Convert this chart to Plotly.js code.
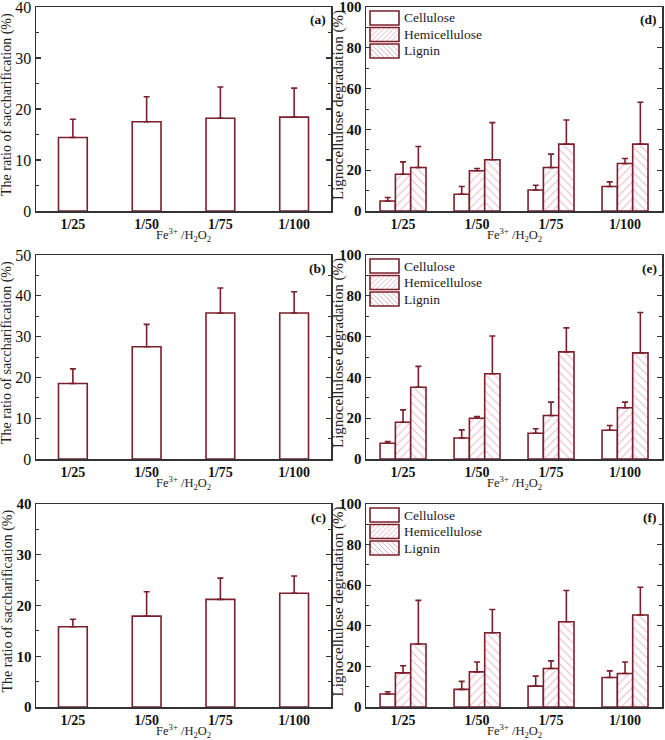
<!DOCTYPE html>
<html>
<head>
<meta charset="utf-8">
<script src="https://cdn.plot.ly/plotly-3.0.1.min.js"></script>
<style>html,body{margin:0;padding:0;background:#fff;}#chart{width:665px;height:740px;}</style>
</head>
<body>
<div id="chart"></div>
<script>
// ---------------- data ----------------
const ratios = ['1/25', '1/50', '1/75', '1/100'];
const seriesNames = ['Cellulose', 'Hemicellulose', 'Lignin'];

// Saccharification ratio (%) : bar value and top of error bar
const saccA = [14.4, 17.5, 18.2, 18.4];
const saccAErrTop = [18.0, 22.4, 24.3, 24.1];
const saccB = [18.5, 27.5, 35.8, 35.8];
const saccBErrTop = [22.1, 33.0, 41.9, 41.0];
const saccC = [15.8, 17.9, 21.2, 22.4];
const saccCErrTop = [17.3, 22.7, 25.4, 25.8];

// Lignocellulose degradation (%) panel (d)
const celD = [4.9, 8.2, 10.3, 12.0];
const celDErrTop = [6.6, 12.0, 12.6, 14.3];
const hemD = [18.0, 19.7, 21.3, 23.3];
const hemDErrTop = [24.1, 20.8, 27.9, 25.7];
const ligD = [21.3, 25.1, 32.8, 32.8];
const ligDErrTop = [31.6, 43.3, 44.6, 53.3];
// panel (e)
const celE = [7.7, 10.3, 12.6, 14.1];
const celEErrTop = [8.6, 14.3, 14.8, 16.4];
const hemE = [18.0, 20.0, 21.3, 25.1];
const hemEErrTop = [24.1, 20.8, 27.9, 27.9];
const ligE = [35.2, 41.8, 52.5, 52.0];
const ligEErrTop = [45.4, 60.3, 64.3, 71.8];
// panel (f)
const celF = [6.4, 8.7, 10.3, 14.5];
const celFErrTop = [7.5, 12.6, 15.2, 17.8];
const hemF = [16.8, 17.3, 19.0, 16.5];
const hemFErrTop = [20.3, 22.2, 22.7, 22.2];
const ligF = [31.0, 36.6, 42.0, 45.3];
const ligFErrTop = [52.5, 48.0, 57.4, 59.0];

// ---------------- style ----------------
const W = 665, H = 740;
const DARK = '#7b1f2c';
const PINK = '#eab3c7';
const AXC = '#333333';
const FONT = 'Liberation Serif, Times New Roman, serif';
const px = p => p / W;
const py = p => 1 - p / H;

const leftX = [36, 331], rightX = [366, 662];
const rows = [[7, 211], [255, 459], [504, 707]];

function errSpec(vals, tops) {
  return {
    type: 'data', symmetric: false,
    array: tops.map((t, i) => Math.max(0, t - vals[i])),
    arrayminus: vals.map(() => 0),
    color: DARK, thickness: 1.6, width: 3
  };
}

const traces = [];
function saccTrace(vals, tops, ax) {
  traces.push({
    type: 'bar', x: ratios, y: vals, xaxis: 'x' + ax, yaxis: 'y' + ax,
    width: 0.39, showlegend: false,
    marker: {color: '#ffffff', line: {color: DARK, width: 1.6}},
    error_y: errSpec(vals, tops), name: 'Saccharification'
  });
}
const patterns = ['', '/', '\\'];
const offsets = [-0.31, -0.103, 0.104];
function degTraces(sets, ax) {
  sets.forEach((s, k) => {
    traces.push({
      type: 'bar', x: ratios, y: s[0], xaxis: 'x' + ax, yaxis: 'y' + ax,
      width: 0.207, offset: offsets[k], showlegend: false, name: seriesNames[k],
      marker: {
        color: '#ffffff', line: {color: DARK, width: 1.6},
        pattern: {shape: patterns[k], fgcolor: PINK, bgcolor: '#ffffff', size: 6, solidity: 0.16}
      },
      error_y: errSpec(s[0], s[1])
    });
  });
}
saccTrace(saccA, saccAErrTop, '');
degTraces([[celD, celDErrTop], [hemD, hemDErrTop], [ligD, ligDErrTop]], '2');
saccTrace(saccB, saccBErrTop, '3');
degTraces([[celE, celEErrTop], [hemE, hemEErrTop], [ligE, ligEErrTop]], '4');
saccTrace(saccC, saccCErrTop, '5');
degTraces([[celF, celFErrTop], [hemF, hemFErrTop], [ligF, ligFErrTop]], '6');

const layout = {
  width: W, height: H, margin: {l: 0, r: 0, t: 0, b: 0},
  paper_bgcolor: '#ffffff', plot_bgcolor: '#ffffff',
  font: {family: FONT, color: '#1a1a1a'},
  barmode: 'group', showlegend: false,
  annotations: [], shapes: []
};

const panels = [
  {ax: '', col: leftX, row: 0, ymax: 40, dt: 10, mdt: 5, bold: false, lab: '(a)', left: true},
  {ax: '2', col: rightX, row: 0, ymax: 100, dt: 20, mdt: 10, bold: true, lab: '(d)', left: false},
  {ax: '3', col: leftX, row: 1, ymax: 50, dt: 10, mdt: 5, bold: false, lab: '(b)', left: true},
  {ax: '4', col: rightX, row: 1, ymax: 100, dt: 20, mdt: 10, bold: true, lab: '(e)', left: false},
  {ax: '5', col: leftX, row: 2, ymax: 40, dt: 10, mdt: 5, bold: true, lab: '(c)', left: true},
  {ax: '6', col: rightX, row: 2, ymax: 100, dt: 20, mdt: 10, bold: true, lab: '(f)', left: false}
];

function hatchPath(x0, y0, x1, y1, dir, step) {
  // pixel coords, y downward; returns paper path
  let d = '';
  if (dir === '/') {
    for (let c = x0 + y0 + step; c < x1 + y1; c += step) {
      const xa = Math.max(x0, c - y1), xb = Math.min(x1, c - y0);
      if (xb <= xa) continue;
      d += `M${px(xa)},${py(c - xa)}L${px(xb)},${py(c - xb)}`;
    }
  } else {
    for (let c = x0 - y1 + step; c < x1 - y0; c += step) {
      const xa = Math.max(x0, c + y0), xb = Math.min(x1, c + y1);
      if (xb <= xa) continue;
      d += `M${px(xa)},${py(xa - c)}L${px(xb)},${py(xb - c)}`;
    }
  }
  return d;
}

panels.forEach(p => {
  const xa = 'xaxis' + p.ax, ya = 'yaxis' + p.ax;
  const [t, b] = rows[p.row];
  layout[xa] = {
    domain: [px(p.col[0]), px(p.col[1])], anchor: 'y' + p.ax,
    type: 'category', range: [-0.5, 3.5], fixedrange: true,
    showline: true, linecolor: AXC, linewidth: 1.5, mirror: true,
    ticks: '', showgrid: false, zeroline: false, ticklabeloverflow: 'allow',
    tickfont: {family: FONT, size: 14, weight: 'bold', color: '#111'}
  };
  layout[ya] = {
    domain: [py(b), py(t)], anchor: 'x' + p.ax,
    range: [0, p.ymax], dtick: p.dt, tick0: 0, fixedrange: true,
    showline: true, linecolor: AXC, linewidth: 1.5, mirror: 'ticks',
    ticks: 'inside', ticklen: 5, tickwidth: 1.2, tickcolor: AXC,
    minor: {ticks: 'inside', ticklen: 3, dtick: p.mdt, tickcolor: AXC, tickwidth: 1},
    showgrid: false, zeroline: false, ticklabeloverflow: 'allow',
    tickfont: {family: FONT, size: p.bold ? 15 : 16, weight: p.bold ? 'bold' : 'normal', color: '#111'}
  };
  // x title
  layout.annotations.push({
    xref: 'paper', yref: 'paper', x: px((p.col[0] + p.col[1]) / 2), y: py(b + 14),
    text: 'Fe<sup>3+</sup> /H<sub>2</sub>O<sub>2</sub>', showarrow: false,
    xanchor: 'center', yanchor: 'top', borderpad: 0,
    font: {family: FONT, size: 12.5, color: '#222'}
  });
  // y title
  layout.annotations.push({
    xref: 'paper', yref: 'paper', x: px(p.left ? p.col[0] - 29 : p.col[0] - 28), y: py((t + b) / 2 - 4),
    text: p.left ? 'The ratio of saccharification (%)' : 'Lignocellulose degradation (%)',
    textangle: -90, showarrow: false, xanchor: 'center', yanchor: 'middle',
    font: {family: FONT, size: p.left ? 14 : 15, color: '#222'}
  });
  // panel label
  layout.annotations.push({
    xref: 'paper', yref: 'paper', x: px(p.col[1] - 3), y: py(t + 13),
    text: p.lab, showarrow: false, xanchor: 'right', yanchor: 'middle',
    font: {family: FONT, size: 13.5, weight: 'bold', color: '#111'}
  });
  if (!p.left) {
    // legend drawn as boxes + text
    seriesNames.forEach((nm, k) => {
      const bx0 = p.col[0] + 4, bx1 = bx0 + 29;
      const by0 = t + 4 + k * 16.5, by1 = by0 + 14;
      if (k > 0) {
        layout.shapes.push({
          type: 'path', xref: 'paper', yref: 'paper',
          path: hatchPath(bx0, by0, bx1, by1, patterns[k], 5),
          line: {color: PINK, width: 1}
        });
      }
      layout.shapes.push({
        type: 'rect', xref: 'paper', yref: 'paper',
        x0: px(bx0), x1: px(bx1), y0: py(by1), y1: py(by0),
        line: {color: DARK, width: 1.6}, fillcolor: 'rgba(0,0,0,0)'
      });
      layout.annotations.push({
        xref: 'paper', yref: 'paper', x: px(bx1 + 3), y: py((by0 + by1) / 2),
        text: nm, showarrow: false, xanchor: 'left', yanchor: 'middle',
        font: {family: FONT, size: 13.5, color: '#222'}
      });
    });
  }
});

Plotly.newPlot('chart', traces, layout, {staticPlot: true, displayModeBar: false});
</script>
</body>
</html>
